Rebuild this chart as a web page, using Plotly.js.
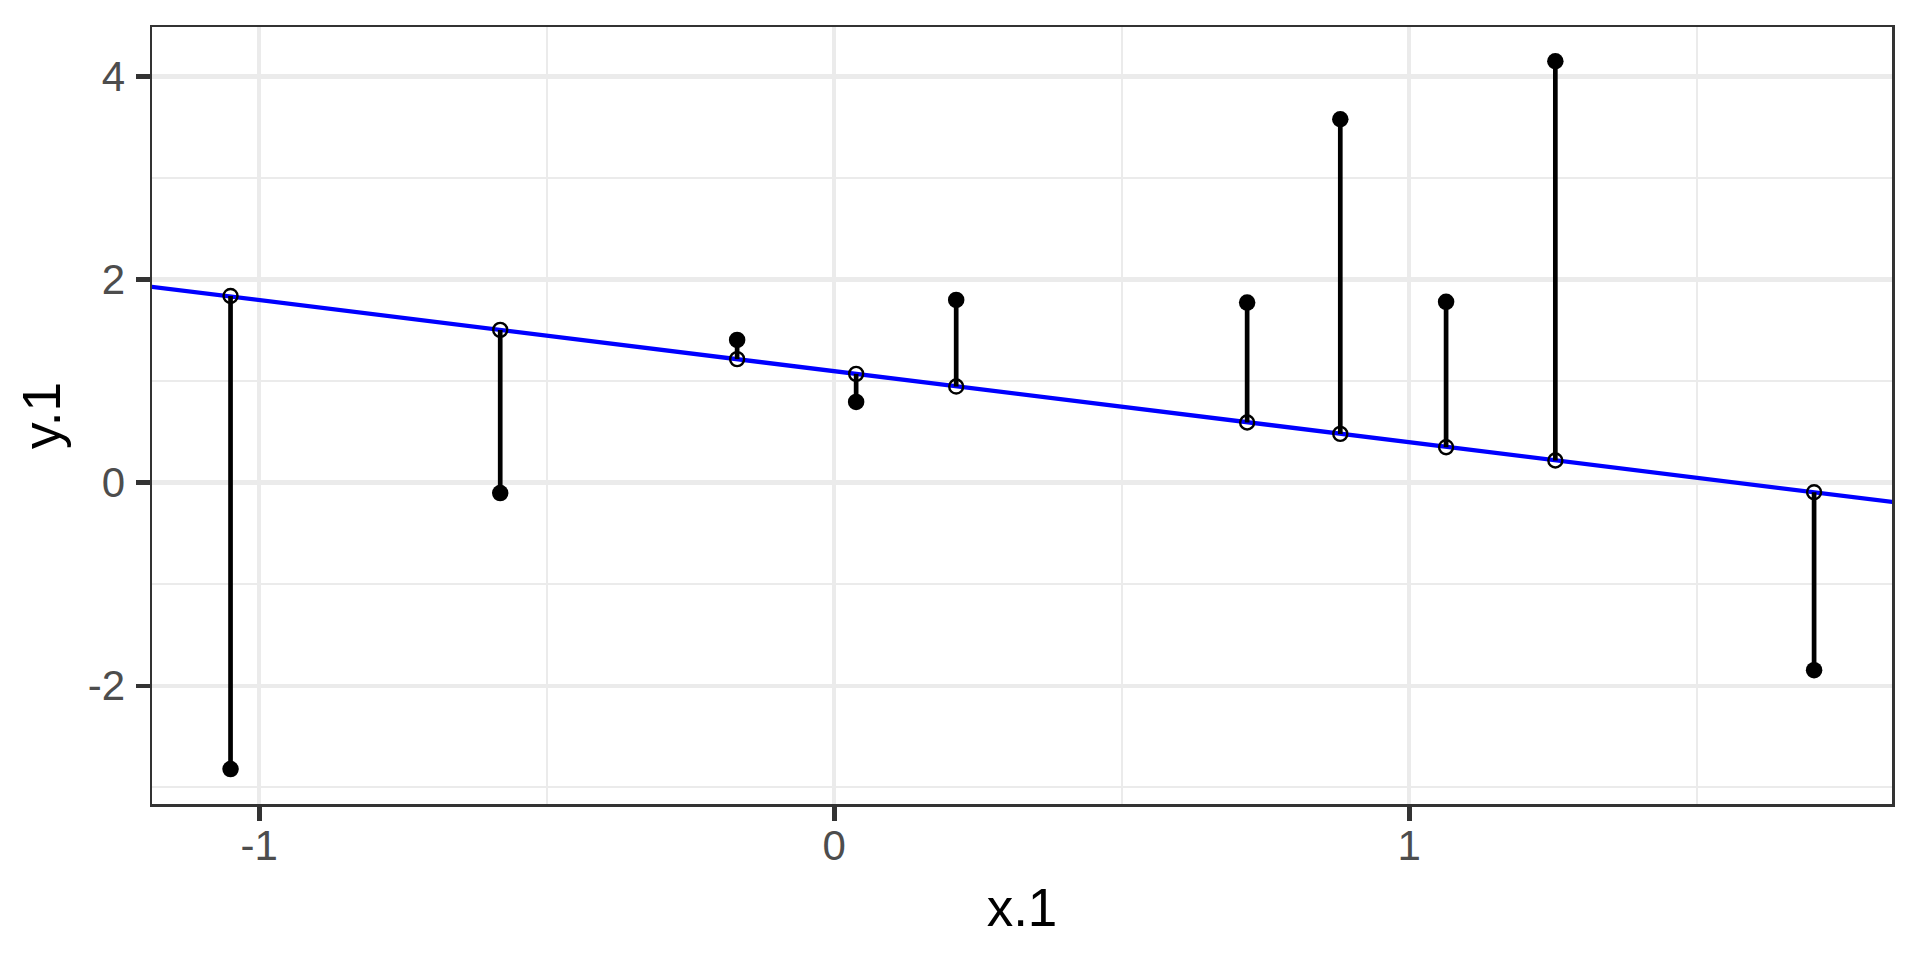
<!DOCTYPE html>
<html>
<head>
<meta charset="utf-8">
<script src="https://cdn.plot.ly/plotly-3.0.1.min.js"></script>
<style>html,body{margin:0;padding:0;background:#fff;}#chart{width:1920px;height:960px;}</style>
</head>
<body>
<div id="chart"></div>
<script>
// observed points
var xObs = [-1.050, -0.581, -0.169, 0.038, 0.212, 0.718, 0.880, 1.064, 1.254, 1.704];
var yObs = [-2.820, -0.103, 1.405, 0.795, 1.799, 1.773, 3.578, 1.780, 4.149, -1.846];
// fitted values on the regression line
var yFit = [1.838, 1.504, 1.216, 1.071, 0.946, 0.592, 0.480, 0.349, 0.218, -0.094];
// regression line end points (read at the panel edges)
var lineX = [-1.19, 1.84];
var lineY = [1.93, -0.19];

var segX = [], segY = [];
for (var i = 0; i < xObs.length; i++) {
  segX.push(xObs[i], xObs[i], null);
  segY.push(yFit[i], yObs[i], null);
}

var font = "Liberation Sans, Arial, Helvetica, sans-serif";

var traces = [
  {x: lineX, y: lineY, type: 'scatter', mode: 'lines',
   line: {color: '#0000FF', width: 4.3}, hoverinfo: 'skip', showlegend: false},
  {x: segX, y: segY, type: 'scatter', mode: 'lines',
   line: {color: '#000000', width: 4.7}, hoverinfo: 'skip', showlegend: false},
  {x: xObs, y: yObs, type: 'scatter', mode: 'markers',
   marker: {color: '#000000', size: 16.5, symbol: 'circle', line: {width: 0}}, showlegend: false},
  {x: xObs, y: yFit, type: 'scatter', mode: 'markers',
   marker: {color: '#000000', size: 14, symbol: 'circle-open', line: {width: 2.4, color: '#000000'}}, showlegend: false}
];

var axisCommon = {
  showline: true, linecolor: '#333333', linewidth: 2.5, mirror: true,
  ticks: 'outside', ticklen: 14, tickwidth: 4.5, tickcolor: '#333333',
  showgrid: true, gridcolor: '#EBEBEB', gridwidth: 4.3,
  zeroline: false,
  tickfont: {family: font, size: 42, color: '#4D4D4D'}
};

var layout = {
  width: 1920, height: 960,
  paper_bgcolor: '#FFFFFF', plot_bgcolor: '#FFFFFF',
  margin: {l: 152, r: 28, t: 27, b: 156},
  showlegend: false,
  xaxis: Object.assign({}, axisCommon, {
    range: [-1.1866, 1.8395],
    tickmode: 'array', tickvals: [-1, 0, 1], ticktext: ['-1', '0', '1'],
    minor: {tickvals: [-0.5, 0.5, 1.5], showgrid: true, gridcolor: '#EBEBEB', gridwidth: 2, ticks: ''},
    ticklabelstandoff: -11,
    title: {text: 'x.1', font: {family: font, size: 53, color: '#000000'}, standoff: 21}
  }),
  yaxis: Object.assign({}, axisCommon, {
    range: [-3.164, 4.486],
    tickmode: 'array', tickvals: [-2, 0, 2, 4], ticktext: ['-2', '0', '2', '4'],
    minor: {tickvals: [-3, -1, 1, 3], showgrid: true, gridcolor: '#EBEBEB', gridwidth: 2, ticks: ''},
    ticklabelstandoff: 2,
    title: {text: 'y.1', font: {family: font, size: 53, color: '#000000'}, standoff: 10}
  })
};

Plotly.newPlot('chart', traces, layout, {displayModeBar: false, staticPlot: true});
</script>
</body>
</html>
